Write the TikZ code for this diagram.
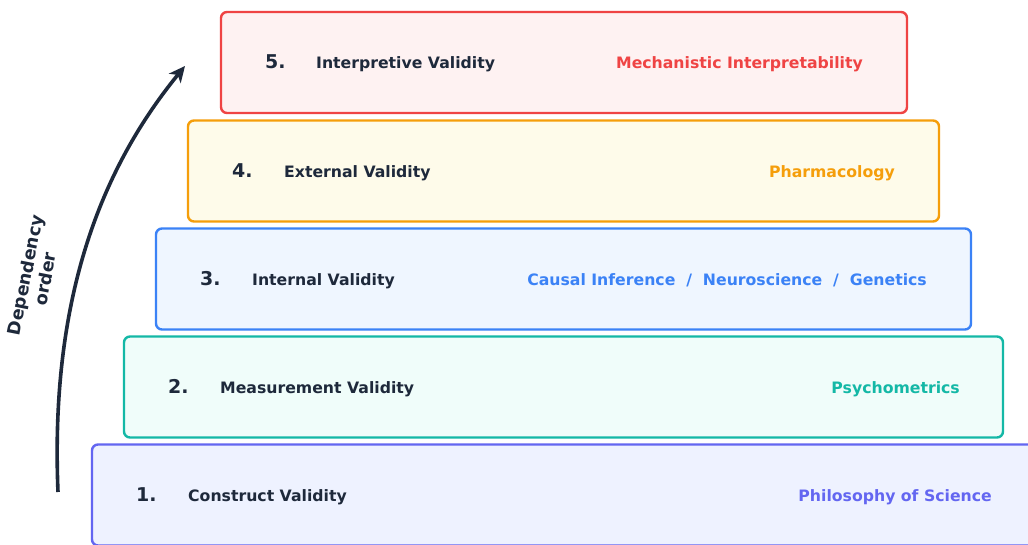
\documentclass[tikz,border=0pt]{standalone}
\usepackage{fontspec}
\setmainfont{DejaVu Sans}
\usetikzlibrary{arrows.meta}

\definecolor{ink}{HTML}{1E293B}
\definecolor{philo}{HTML}{6366F1}
\definecolor{philobg}{HTML}{EEF2FF}
\definecolor{psych}{HTML}{14B8A6}
\definecolor{psychbg}{HTML}{F0FDFA}
\definecolor{causal}{HTML}{3B82F6}
\definecolor{causalbg}{HTML}{EFF6FF}
\definecolor{pharma}{HTML}{F59E0B}
\definecolor{pharmabg}{HTML}{FEFBEA}
\definecolor{mech}{HTML}{EF4444}
\definecolor{mechbg}{HTML}{FEF2F2}

\tikzset{
  tier/.style={draw, line width=2.4pt, rounded corners=6pt, minimum height=101pt, inner sep=0pt},
  num/.style={anchor=base west, inner sep=0pt, text=ink, font=\fontsize{19}{22}\selectfont\bfseries},
  lbl/.style={anchor=base west, inner sep=0pt, text=ink, font=\fontsize{15.7}{18}\selectfont\bfseries},
  fld/.style={anchor=base east, inner sep=0pt, font=\fontsize{15.7}{18}\selectfont\bfseries},
}

\begin{document}
\begin{tikzpicture}[x=1pt,y=-1pt]
    \clip (0,0) rectangle (1028,544);
    \fill[white] (0,0) rectangle (1028,544);

    % tiers, bottom one runs off the page
    \node[tier, draw=philo, fill=philobg, minimum width=943pt] (tier1) at (563.5,495) {};
    \node[tier, draw=psych, fill=psychbg, minimum width=879pt] (tier2) at (563.5,387) {};
    \node[tier, draw=causal, fill=causalbg, minimum width=815pt] (tier3) at (563.5,279) {};
    \node[tier, draw=pharma, fill=pharmabg, minimum width=751pt] (tier4) at (563.5,171) {};
    \node[tier, draw=mech, fill=mechbg, minimum width=686pt] (tier5) at (564,62.5) {};

    \node[num] (num1) at (136,501) {1.};
    \node[lbl] (lbl1) at (188,501) {Construct Validity};
    \node[fld, text=philo] (fld1) at (992,501) {Philosophy of Science};

    \node[num] (num2) at (168,393) {2.};
    \node[lbl] (lbl2) at (220,393) {Measurement Validity};
    \node[fld, text=psych] (fld2) at (960,393) {Psychometrics};

    \node[num] (num3) at (200,285) {3.};
    \node[lbl] (lbl3) at (252,285) {Internal Validity};
    \node[fld, text=causal] (fld3) at (927,285) {Causal Inference~~/~~Neuroscience~~/~~Genetics};

    \node[num] (num4) at (232,177) {4.};
    \node[lbl] (lbl4) at (284,177) {External Validity};
    \node[fld, text=pharma] (fld4) at (895,177) {Pharmacology};

    \node[num] (num5) at (265,68.5) {5.};
    \node[lbl] (lbl5) at (316,68.5) {Interpretive Validity};
    \node[fld, text=mech] (fld5) at (863,68.5) {Mechanistic Interpretability};

    % dependency arrow
    \coordinate (base) at (58,492);
    \coordinate (top) at (185,66);
    \draw[ink, line width=3.6pt, -{Stealth[length=16pt,width=15pt,inset=4.5pt]}]
      (base) .. controls (50,300) and (100,170) .. (top);
    \node[rotate=79, align=center, text=ink, inner sep=0pt,
          font=\fontsize{17.5}{20}\selectfont\bfseries] (deplbl) at (35,277) {Dependency\\order};
  \end{tikzpicture}
\end{document}
